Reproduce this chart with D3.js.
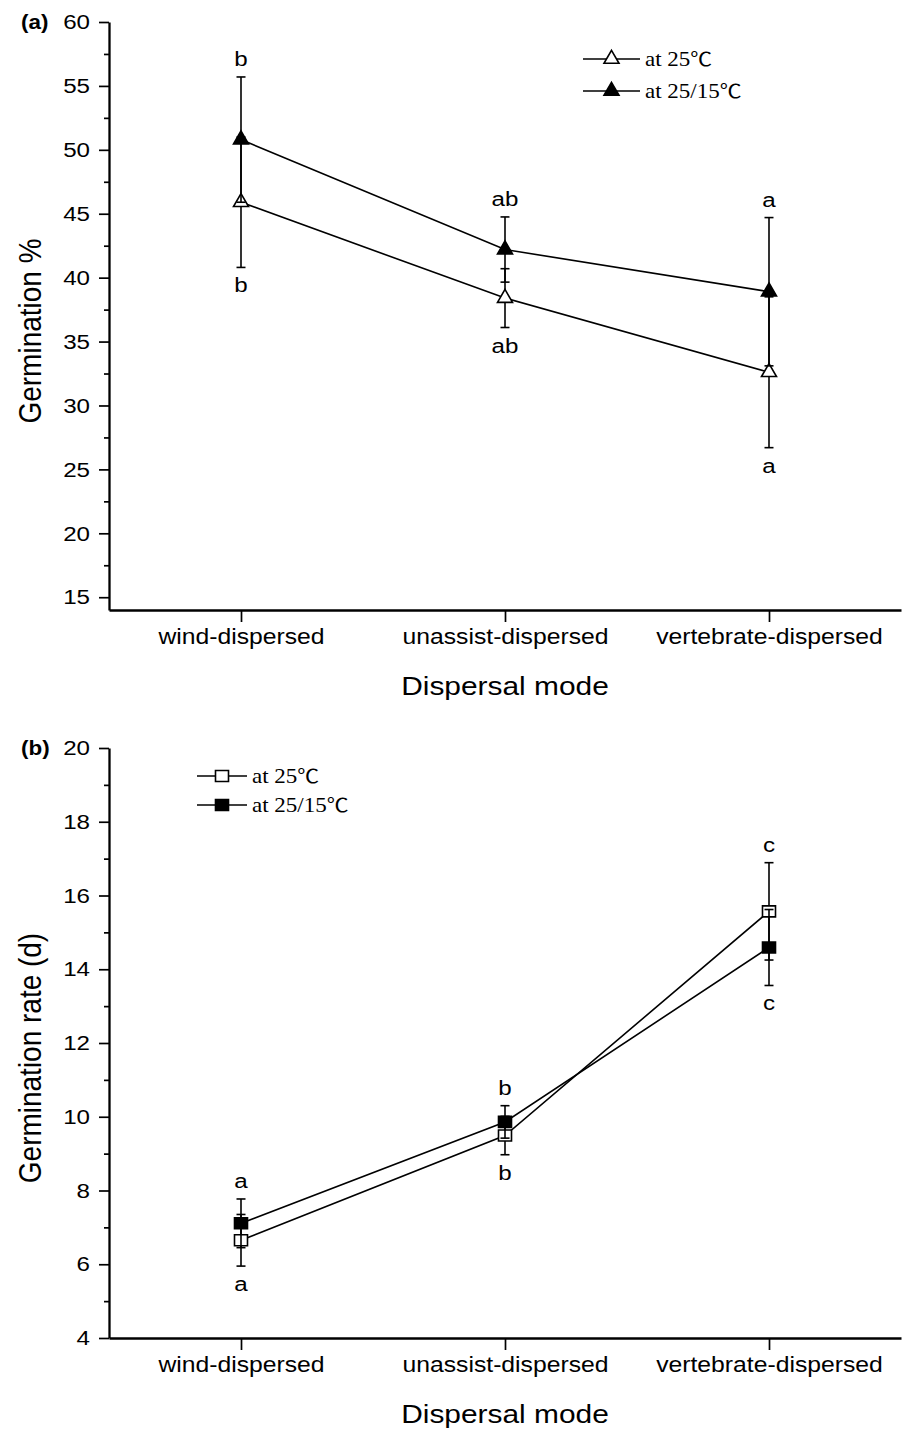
<!DOCTYPE html>
<html>
<head>
<meta charset="utf-8">
<script src="https://cdn.jsdelivr.net/npm/d3@7"></script>
<style>
  html, body { margin: 0; padding: 0; background: #fff; }
  svg { display: block; }
  text { fill: #000; }
</style>
</head>
<body>
<script>
// ---------------- data ----------------
const categories = ["wind-dispersed", "unassist-dispersed", "vertebrate-dispersed"];
const legendLabels = ["at 25\u2103", "at 25/15\u2103"];

const germTicks = [15, 20, 25, 30, 35, 40, 45, 50, 55, 60];
const germ25 = [45.9, 38.4, 32.6];
const germ25Err = [5.1, 2.3, 5.9];
const germ2515 = [50.8, 42.2, 38.9];
const germ2515Err = [4.9, 2.55, 5.8];
const germLettersUp = ["b", "ab", "a"];
const germLettersDown = ["b", "ab", "a"];

const rateTicks = [4, 6, 8, 10, 12, 14, 16, 18, 20];
const rate25 = [6.65, 9.49, 15.57];
const rate25Err = [0.7, 0.52, 1.32];
const rate2515 = [7.11, 9.86, 14.59];
const rate2515Err = [0.66, 0.44, 1.03];
const rateLettersUp = ["a", "b", "c"];
const rateLettersDown = ["a", "b", "c"];

// ---------------- layout ----------------
const W = 904, H = 1430;
const SX = 1.15;               // horizontal stretch of the original figure
const SANS = "'Liberation Sans', Arial, Helvetica, sans-serif";
const SERIF = "'Liberation Serif', 'Times New Roman', serif";
const CJK = "'Noto Sans CJK SC', 'Noto Sans CJK JP', sans-serif";

const svg = d3.select("body").append("svg")
  .attr("width", W).attr("height", H)
  .attr("viewBox", `0 0 ${W} ${H}`);
svg.append("rect").attr("width", W).attr("height", H).attr("fill", "#fff");

function stretchedText(g, x, y, str, opts) {
  const t = g.append("text")
    .attr("transform", `translate(${x},${y}) scale(${SX},1)` + (opts.rotate ? ` rotate(${opts.rotate})` : ""))
    .attr("font-family", opts.family || SANS)
    .attr("font-size", opts.size)
    .attr("font-weight", opts.weight || "normal")
    .attr("text-anchor", opts.anchor || "start");
  if (opts.cjkDegree) {
    const parts = str.split("\u2103");
    t.append("tspan").text(parts[0]);
    t.append("tspan").attr("font-family", CJK).attr("font-size", opts.size * 0.95).text("\u2103");
  } else {
    t.text(str);
  }
  return t;
}

function marker(g, x, y, shape, filled) {
  let p;
  if (shape === "tri") {
    p = g.append("path").attr("d", "M0,-8.7L7.5,4.3L-7.5,4.3Z");
  } else {
    p = g.append("path").attr("d", "M-6.5,-5.5H6.5V5.5H-6.5Z");
  }
  p.attr("transform", `translate(${x},${y})`)
    .attr("fill", filled ? "#000" : "#fff")
    .attr("stroke", "#000").attr("stroke-width", 1.6)
    .attr("stroke-linejoin", "miter");
}

function drawPanel(cfg) {
  const g = svg.append("g");
  const x = d3.scalePoint().domain(categories).range([109, 901]).padding(0.5);
  const y = d3.scaleLinear().domain(cfg.yDomain).range([cfg.bottom, cfg.top]);

  // minor ticks (midpoints between majors)
  const minor = [];
  for (let i = 0; i < cfg.ticks.length - 1; i++) minor.push((cfg.ticks[i] + cfg.ticks[i + 1]) / 2);

  const yMinorAxis = d3.axisLeft(y).tickValues(minor).tickSize(5).tickSizeOuter(0).tickFormat("");
  const gMinor = g.append("g").attr("transform", "translate(109,0)").call(yMinorAxis);
  gMinor.select(".domain").remove();
  gMinor.selectAll("line").attr("stroke-width", 1.7);

  const yAxis = d3.axisLeft(y).tickValues(cfg.ticks).tickSize(10).tickSizeOuter(0).tickFormat(d3.format("d"));
  const gy = g.append("g").attr("transform", "translate(109,0)").call(yAxis);
  gy.select(".domain").attr("stroke-width", 2.3);
  gy.selectAll(".tick line").attr("stroke-width", 1.7);
  gy.selectAll(".tick text")
    .attr("x", null)
    .attr("transform", `translate(-19,0) scale(${SX},1)`)
    .attr("font-family", SANS).attr("font-size", 21).attr("fill", "#000");

  const xAxis = d3.axisBottom(x).tickSize(12).tickSizeOuter(0);
  const gx = g.append("g").attr("transform", `translate(0,${cfg.bottom})`).call(xAxis);
  gx.select(".domain").attr("stroke-width", 2.3);
  gx.selectAll(".tick line").attr("stroke-width", 1.7);
  gx.selectAll(".tick text")
    .attr("y", null)
    .attr("transform", `translate(0,19) scale(${SX},1)`)
    .attr("font-family", SANS).attr("font-size", 21.5).attr("fill", "#000");

  // titles
  stretchedText(g, 505, cfg.bottom + 85, "Dispersal mode", { size: 26, anchor: "middle" });
  stretchedText(g, 41, (cfg.top + cfg.bottom) / 2 + 15, cfg.yTitle, { size: 28, anchor: "middle", rotate: -90 });
  stretchedText(g, 21, cfg.top + 7, cfg.tag, { size: 19.5, weight: "bold" });

  // series
  const line = d3.line().x((d, i) => x(categories[i])).y(d => y(d));
  cfg.series.forEach(s => {
    g.append("path").datum(s.values).attr("d", line)
      .attr("fill", "none").attr("stroke", "#000").attr("stroke-width", 1.6);
    s.values.forEach((v, i) => {
      const cx = x(categories[i]);
      const y1 = y(v + s.err[i]), y0 = y(v - s.err[i]);
      g.append("line").attr("x1", cx).attr("x2", cx).attr("y1", y1).attr("y2", y0)
        .attr("stroke", "#000").attr("stroke-width", 1.6);
      [y1, y0].forEach(yy => g.append("line").attr("x1", cx - 4.5).attr("x2", cx + 4.5)
        .attr("y1", yy).attr("y2", yy).attr("stroke", "#000").attr("stroke-width", 1.6));
    });
    s.values.forEach((v, i) => marker(g, x(categories[i]), y(v), cfg.shape, s.filled));
  });

  // significance letters
  categories.forEach((c, i) => {
    const tops = cfg.series.map(s => y(s.values[i] + s.err[i]));
    const bots = cfg.series.map(s => y(s.values[i] - s.err[i]));
    stretchedText(g, x(c), d3.min(tops) - 11, cfg.lettersUp[i], { size: 21, anchor: "middle" });
    stretchedText(g, x(c), d3.max(bots) + 25, cfg.lettersDown[i], { size: 21, anchor: "middle" });
  });

  // legend
  cfg.series.forEach((s, k) => {
    const ly = cfg.legend.y + k * cfg.legend.dy;
    g.append("line").attr("x1", cfg.legend.x0).attr("x2", cfg.legend.x1)
      .attr("y1", ly).attr("y2", ly).attr("stroke", "#000").attr("stroke-width", 1.6);
    marker(g, (cfg.legend.x0 + cfg.legend.x1) / 2, ly, cfg.shape, s.filled);
    stretchedText(g, cfg.legend.x1 + 5, ly + 7, legendLabels[k], { size: 20, family: SERIF, cjkDegree: true });
  });
}

drawPanel({
  top: 22, bottom: 610, yDomain: [14, 60], ticks: germTicks,
  yTitle: "Germination %", tag: "(a)", shape: "tri",
  series: [
    { values: germ25, err: germ25Err, filled: false },
    { values: germ2515, err: germ2515Err, filled: true }
  ],
  lettersUp: germLettersUp, lettersDown: germLettersDown,
  legend: { x0: 583, x1: 640, y: 59, dy: 32 }
});

drawPanel({
  top: 748, bottom: 1338, yDomain: [4, 20], ticks: rateTicks,
  yTitle: "Germination rate (d)", tag: "(b)", shape: "sq",
  series: [
    { values: rate25, err: rate25Err, filled: false },
    { values: rate2515, err: rate2515Err, filled: true }
  ],
  lettersUp: rateLettersUp, lettersDown: rateLettersDown,
  legend: { x0: 197, x1: 247, y: 776, dy: 29 }
});
</script>
</body>
</html>
